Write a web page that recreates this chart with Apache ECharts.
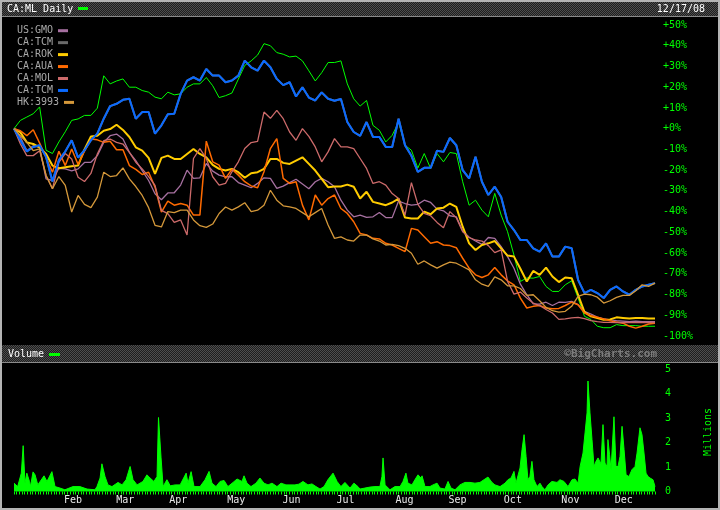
<!DOCTYPE html>
<html><head><meta charset="utf-8">
<script src="https://cdn.jsdelivr.net/npm/echarts@6/dist/echarts.min.js"></script>
<style>html,body{margin:0;padding:0;background:#000;}#c{width:720px;height:510px;}</style>
</head><body><div id="c"></div>
<script>
// x positions: day-of-year 2008 (twice-weekly samples, Jan 2 .. Dec 17)
const days = [2,5.5,9,12.5,16,19.5,23,26.5,30,33.5,37,40.5,44,47.5,51,54.5,58,61.5,65,68.5,72,75.5,79,82.5,86,89.5,93,96.5,100,103.5,107,110.5,114,117.5,121,124.5,128,131.5,135,138.5,142,145.5,149,152.5,156,159.5,163,166.5,170,173.5,177,180.5,184,187.5,191,194.5,198,201.5,205,208.5,212,215.5,219,222.5,226,229.5,233,236.5,240,243.5,247,250.5,254,257.5,261,264.5,268,271.5,275,278.5,282,285.5,289,292.5,296,299.5,303,306.5,310,313.5,317,320.5,324,327.5,331,334.5,338,341.5,345,348.5,352];
// % change series
const ml  = [0,4,5.6,7.2,10.5,-10.4,-12,-6.4,-1.5,4,4.7,6.4,6.4,9.9,25.5,21.6,23,24,20,20,18.4,17.6,15.2,14.4,17.6,16.3,16.8,20,21.6,21.6,24.7,20.7,15,15.9,17.2,23.9,30.5,32.7,35.5,41,40,36.7,35.9,34.6,35,32.7,27.9,23,27,31.9,31.9,32.7,21.6,14.4,10.9,13.6,1.6,-0.8,-6.4,-3.2,3.2,-8,-10.4,-19,-12,-19.2,-12,-16,-11.5,-12,-25.6,-36.9,-34.5,-39.3,-42.5,-31.2,-41.7,-49.7,-61,-73.7,-72,-72.1,-71.3,-76.1,-78.5,-78.5,-75.3,-73.4,-81.7,-90.5,-92,-95.3,-96,-96,-94.5,-95,-95,-95,-95.3,-95.3,-95.3];
const gmo = [0,-4.2,-10.6,-8.2,-9,-24.2,-25,-19.1,-19.4,-20.3,-19.4,-16.3,-16.2,-13,-6.6,-3.4,-2.6,-5,-11.4,-15.4,-20.2,-25,-31.4,-34.3,-31,-30.9,-27.2,-20,-24,-23.7,-16.8,-20.5,-22.4,-23.2,-23.2,-26,-27.2,-28.5,-26.4,-23.7,-24,-28.8,-27.7,-26,-24.4,-26.7,-29,-25.6,-24,-25.6,-28,-34.5,-39.3,-42.5,-41.7,-42.8,-42.5,-40.4,-42.9,-42.9,-34.9,-36.1,-36.9,-36.5,-34.5,-35.6,-38.8,-39.6,-42,-42.5,-49.4,-52.4,-54.2,-55.8,-52.5,-52.9,-56.9,-61.7,-67.3,-75,-80.1,-84.5,-84.6,-83.7,-85.3,-83.7,-83.8,-83.3,-84.9,-88.1,-89.4,-90.9,-91.8,-92.2,-92.6,-92.8,-93.1,-92.8,-93.1,-93.1,-93.1];
const rok = [0,-1.8,-6.6,-7.4,-9,-12.2,-17.8,-19.1,-18.6,-18.1,-17.8,-10,-3.8,-3.4,-1,-0.2,1.9,-0.6,-4,-9,-10.6,-14.1,-21.8,-14.1,-13,-14.6,-14.6,-12.2,-9.8,-12.2,-13.8,-17.5,-19.4,-20.2,-19.4,-21,-23.7,-21.5,-21,-19.4,-14.6,-14.6,-16.5,-17,-15.4,-13.8,-17,-20.2,-24.2,-28.2,-27.9,-27.9,-27,-28,-33.7,-30.4,-35.3,-36.1,-36.9,-35.6,-33.7,-42.9,-43.3,-43.3,-40,-41.3,-38.5,-38.1,-36.1,-37.7,-47.3,-55.3,-58.5,-56.1,-55.3,-54.2,-57.7,-61.2,-61.7,-67.6,-73.7,-68.6,-70.5,-67,-71.3,-74,-71.8,-72.1,-80.1,-88.5,-90.5,-91.3,-92.2,-92,-91,-91.3,-91.6,-91.3,-91.3,-91.6,-91.6];
const aua = [0,-1,-3.4,-0.5,-7,-13.8,-21,-10.9,-17.8,-9.8,-17.3,-10.9,-5,-5.4,-6.6,-6.1,-10.2,-10.2,-17.8,-19.6,-22.1,-21,-28.2,-40.2,-35,-36.9,-36.1,-36.9,-41.7,-41.7,-6,-16,-17.6,-24,-19.5,-22.4,-25.6,-27.6,-28.5,-20.8,-9.6,-4.8,-24,-26.4,-25.6,-36.9,-44,-32,-36.9,-33.7,-32,-38.5,-40.9,-44.9,-50.5,-51.3,-52.9,-53.2,-55.3,-56.1,-57.7,-59.3,-48.1,-48.9,-52.1,-55.3,-54.5,-56.1,-56.4,-57.4,-62.5,-67.3,-70.5,-71.8,-70.5,-67,-70.5,-73.4,-75.3,-81.7,-86.5,-85.7,-85.3,-86.5,-86.9,-86.7,-85.3,-83.7,-84.9,-88.9,-90.2,-91,-91.8,-92.6,-93.3,-93.8,-95.3,-96.2,-95.3,-94.2,-93.8];
const mol = [0,-7.4,-13,-13,-10.6,-22.6,-29,-16.2,-12,-14.6,-23.4,-25.5,-21.6,-12.2,-5.8,-5,-6.6,-7.4,-11.4,-16.2,-19.4,-23.1,-27.4,-39.4,-41,-45.2,-44,-51.3,-14.4,-9.6,-14.4,-23.2,-27.2,-26.4,-20.8,-16,-9.6,-6.7,-6.1,8,5,8.8,4.8,-1.6,-5.6,0,-3.7,-8.8,-16,-11.2,-4.8,-8.8,-8.8,-9.6,-14.4,-19.2,-26.4,-25.6,-27.2,-31.3,-33.7,-41.7,-26,-36.5,-40.9,-42,-45.2,-47.8,-40,-42.9,-49.7,-52.5,-53.7,-54.2,-56.4,-59.8,-58.5,-73.7,-79.8,-78.8,-81.7,-84.1,-85.3,-87.2,-88.9,-92,-91.7,-91.3,-91,-91.6,-92.6,-93.1,-93.4,-93.4,-93.5,-93.5,-93.5,-93.5,-93.5,-93.5,-93.5];
const tcm = [0,-5.6,-11,-8.8,-8,-13.6,-25.5,-15.2,-11,-5.6,-14,-10.4,-5.6,-2.4,4.8,10.9,12,13.9,14.4,4.8,8,8,-2.4,1.6,7,7.2,16.8,23.2,24.8,23.2,28.8,25.6,25.6,22.4,23.2,25.6,32.8,29.6,28,32.8,29.6,24,21,22.4,15.5,20,15,13.6,17.5,14.4,13.5,14.3,3.2,-1.6,-3.5,3.2,-4,-4,-8.8,-8.8,4.8,-8,-13.1,-20.8,-18.9,-18.9,-10.6,-11.2,-4.5,-8,-20,-24,-13.6,-25.6,-32,-28,-33,-44.9,-48.9,-53.7,-53.7,-57.7,-59.3,-55.3,-61.7,-61.7,-56.9,-57.7,-72.9,-79.3,-77.7,-79.3,-81.7,-77.7,-76.1,-78.5,-80.1,-77.7,-76.1,-75.3,-74.5];
const hk  = [0,-3.4,-6.6,-10.6,-9.8,-22.6,-29,-23.1,-27.4,-40.2,-32.2,-36.5,-38.1,-33,-21,-23.1,-22.6,-18.9,-24.2,-27.9,-32.2,-38.1,-46.6,-47.4,-40,-40.5,-39.3,-39.3,-44,-46.8,-47.6,-46,-40.9,-37.8,-39.3,-37.7,-35.7,-40,-39.3,-36.9,-29.7,-34.5,-37.2,-37.7,-38.5,-40.5,-42.5,-40.5,-38.5,-46.5,-52.9,-52.2,-53.7,-54.2,-51.3,-51.3,-53.2,-54.2,-56.1,-55.8,-56.4,-57.7,-60.1,-65.4,-63.8,-65.7,-67.3,-65.7,-64.4,-64.9,-66.5,-68.1,-72.9,-75,-76.1,-71.5,-72.9,-75.8,-75.8,-77.1,-80.4,-80.1,-83,-86.2,-87.8,-88.5,-88.1,-85.7,-80.9,-79.8,-80.1,-81.3,-84.1,-83,-81.4,-80.4,-80.4,-78.2,-75.3,-76.1,-74.5];
// volume (millions) at day-of-year positions
const volDays = [2,4,6,7,8,9,10.5,11,12.4,13.5,15,18.4,20,22.7,24.4,27.1,29.8,34.2,38,41.9,46.2,47.3,49,50,51.7,53.3,55.5,58.8,61,63.2,65.4,67,69.2,72.4,74.6,76.3,78.4,80.1,80.9,81.6,82.3,83.4,85.5,87.3,90,92.7,96,97,98.7,100.3,103.6,106.3,108.5,110.1,112.3,114.5,116.7,118.8,121.6,123.8,126.5,127.6,129.2,131.4,134.1,136.3,138.5,140.7,142.9,145.6,147.8,150.5,152.7,155.4,157.6,159.8,162.5,164.7,166.9,169.1,171.3,173.4,176.2,178.4,180.5,182.7,185.5,187.6,189.8,190.9,193.6,196.4,199.1,201.8,202.9,203.5,204.6,207.3,210,212.8,214.4,216,217.1,219.3,220.9,222.6,224.2,224.8,226.4,229.1,230.8,233,234.6,237.3,239,240.6,242.8,245.5,248.2,251,253.7,256.4,259.2,260.8,263,264.6,267.4,270.1,271.7,273.4,275,276.1,278.3,279.4,280.5,281.6,282.6,283.7,284.8,285.9,287.6,289.2,290.3,291.9,293.6,295.7,298.5,300.1,302.3,304.5,306.7,308.3,310,311.1,312.7,313.8,314.9,315.4,316.5,317.6,318.7,319.8,320.9,322.5,323.6,324.7,325.8,326.3,327.2,328,329.6,330.7,331.8,332.9,334,335.1,336.2,337.8,339.4,341.1,342.2,343.8,344.9,346,347.1,348.2,349.3,350.9,352];
const volume = [0.34,0.2,0.75,1.87,0.34,0.75,0.4,0.2,0.8,0.68,0.27,0.64,0.41,0.81,0.2,0.14,0.07,0.2,0.2,0.1,0.07,0.2,0.55,1.13,0.61,0.27,0.2,0.37,0.27,0.48,1.02,0.48,0.27,0.41,0.68,0.55,0.41,0.61,3.02,2.19,1.37,0.2,0.48,0.23,0.27,0.27,0.75,0.34,0.81,0.2,0.2,0.48,0.82,0.34,0.2,0.41,0.45,0.2,0.37,0.51,0.41,0.64,0.34,0.2,0.34,0.55,0.34,0.27,0.34,0.2,0.34,0.27,0.27,0.27,0.3,0.41,0.27,0.31,0.2,0.1,0.2,0.48,0.75,0.41,0.2,0.37,0.14,0.34,0.2,0.1,0.14,0.18,0.2,0.2,0.61,1.37,0.27,0.07,0.2,0.2,0.41,0.75,0.34,0.27,0.48,0.68,0.55,0.64,0.2,0.2,0.27,0.34,0.14,0.1,0.41,0.14,0.07,0.27,0.37,0.37,0.34,0.37,0.51,0.59,0.37,0.27,0.2,0.34,0.48,0.55,0.82,0.34,0.96,1.71,2.32,1.43,0.48,0.61,1.23,0.48,0.2,0.34,0.2,0.07,0.27,0.41,0.37,0.48,0.41,0.2,0.48,0.51,0.34,1.02,1.57,2.39,3.21,4.51,3.21,2.12,1.02,1.23,1.37,1.13,2.73,1.16,1.02,2.12,1.5,0.89,3.05,1.02,1.02,1.43,2.66,1.71,0.68,0.61,0.89,1.02,1.57,2.6,2.32,1.57,0.75,0.61,0.55,0.48,0.2];
// month label positions (day-of-year scale, as placed on the original)
const monthDays = [34.2,62.8,91.7,123.4,153.5,183,215.2,244.2,274.4,305.8,334.9];
const monthNames = ['Feb','Mar','Apr','May','Jun','Jul','Aug','Sep','Oct','Nov','Dec'];
const legendNames = ['US:GMO','CA:TCM','CA:ROK','CA:AUA','CA:MOL','CA:TCM','HK:3993'];
const legendColors = ['#a670a0','#6a6a6a','#ffcc00','#ff6a00','#cc6a6a','#0a6aff','#d4983a'];

const pairs = (xs, ys) => xs.map((x, i) => [x, ys[i]]);
const font = '"DejaVu Sans Mono", monospace';

// checkered pattern for header bands
const pc = document.createElement('canvas');
pc.width = 2; pc.height = 2;
const pg = pc.getContext('2d');
pg.fillStyle = '#1e1e1e'; pg.fillRect(0, 0, 2, 2);
pg.fillStyle = '#4e4e4e'; pg.fillRect(0, 0, 1, 1); pg.fillRect(1, 1, 1, 1);
const pat = {image: pc, repeat: 'repeat'};

const graphics = [
  {type:'rect', shape:{x:1,y:1,width:718,height:508}, style:{fill:null, stroke:'#b4b4b4', lineWidth:2}, silent:true},
  {type:'rect', shape:{x:2,y:2,width:716,height:14}, style:{fill:pat}, silent:true},
  {type:'line', shape:{x1:2,y1:16.5,x2:718,y2:16.5}, style:{stroke:'#8a8a8a', lineWidth:1}},
  {type:'rect', shape:{x:2,y:345,width:716,height:17}, style:{fill:pat}, silent:true},
  {type:'line', shape:{x1:2,y1:362.5,x2:718,y2:362.5}, style:{stroke:'#8a8a8a', lineWidth:1}},
  {type:'text', x:7, y:9.5, style:{text:'CA:ML Daily', fill:'#ffffff', font:'10px ' + font, verticalAlign:'middle'}},
  {type:'rect', shape:{x:78,y:7,width:10,height:3}, style:{fill:'#00ff00'}},
  {type:'text', x:705, y:9.5, style:{text:'12/17/08', fill:'#ffffff', font:'10px ' + font, align:'right', verticalAlign:'middle'}},
  {type:'text', x:8, y:354, style:{text:'Volume', fill:'#ffffff', font:'10px ' + font, verticalAlign:'middle'}},
  {type:'rect', shape:{x:49,y:353,width:11,height:3}, style:{fill:'#00ff00'}},
  {type:'text', x:657, y:354, style:{text:'\u00A9BigCharts.com', fill:'#7c7c7c', font:'bold 11px ' + font, align:'right', verticalAlign:'middle'}},
  {type:'text', x:708, y:432, rotation:Math.PI/2, style:{text:'Millions', fill:'#00ff00', font:'10px ' + font, align:'center', verticalAlign:'middle'}}
];
legendNames.forEach((n, i) => {
  const y = 30.7 + i * 11.95;
  graphics.push({type:'text', x:17, y:y, style:{text:n, fill:'#a8a8a8', font:'10px ' + font, verticalAlign:'middle'}});
  graphics.push({type:'rect', shape:{x:17 + n.length * 6 + 5, y:y - 1.5, width:10, height:3}, style:{fill:legendColors[i]}});
});

const lineSeries = (name, arr, color, width) => ({
  name, type:'line', xAxisIndex:0, yAxisIndex:0, data:pairs(days, arr),
  showSymbol:false, symbol:'none', lineStyle:{color, width}, itemStyle:{color}
});

const chart = echarts.init(document.getElementById('c'), null, {renderer:'canvas'});
chart.setOption({
  backgroundColor:'#000',
  animation:false,
  grid:[
    {left:14, top:25, width:641, height:311},
    {left:14, top:369, width:641, height:122.5}
  ],
  xAxis:[
    {type:'value', gridIndex:0, min:2, max:352, show:false},
    {type:'value', gridIndex:1, min:2, max:352, position:'bottom',
     axisLine:{show:false}, axisTick:{show:false}, splitLine:{show:false},
     axisLabel:{customValues:monthDays, formatter:v => monthNames[monthDays.indexOf(v)] || '',
       color:'#e8e8e8', fontFamily:font, fontSize:10, margin:4}},
    {type:'value', gridIndex:1, min:0, max:240, interval:1, position:'bottom',
     axisLine:{show:false}, axisTick:{show:true, length:3, lineStyle:{color:'#00ff00', width:1}},
     axisLabel:{show:false}, splitLine:{show:false}}
  ],
  yAxis:[
    {type:'value', gridIndex:0, min:-100, max:50, interval:10, position:'right',
     axisLine:{show:false}, axisTick:{show:false}, splitLine:{show:false},
     axisLabel:{color:'#00ff00', fontFamily:font, fontSize:10, margin:8,
       formatter:v => (v >= 0 ? '+' : '') + v + '%'}},
    {type:'value', gridIndex:1, min:0, max:5, interval:1, position:'right',
     axisLine:{show:false}, axisTick:{show:false}, splitLine:{show:false},
     axisLabel:{color:'#00ff00', fontFamily:font, fontSize:10, margin:10}}
  ],
  series:[
    lineSeries('CA:ML', ml, '#00ff00', 1),
    lineSeries('US:GMO', gmo, '#a670a0', 1.3),
    lineSeries('CA:TCM (2)', tcm, '#6a6a6a', 2),
    lineSeries('CA:ROK', rok, '#ffcc00', 2),
    lineSeries('CA:AUA', aua, '#ff6a00', 1.5),
    lineSeries('CA:MOL', mol, '#cc6a6a', 1.3),
    lineSeries('CA:TCM', tcm, '#0a6aff', 2),
    lineSeries('HK:3993', hk, '#d4983a', 1.3),
    {name:'Volume', type:'line', xAxisIndex:1, yAxisIndex:1, data:pairs(volDays, volume),
     showSymbol:false, symbol:'none', lineStyle:{color:'#00ff00', width:1},
     areaStyle:{color:'#00ff00', opacity:1}}
  ],
  graphic:graphics
});
</script></body></html>
